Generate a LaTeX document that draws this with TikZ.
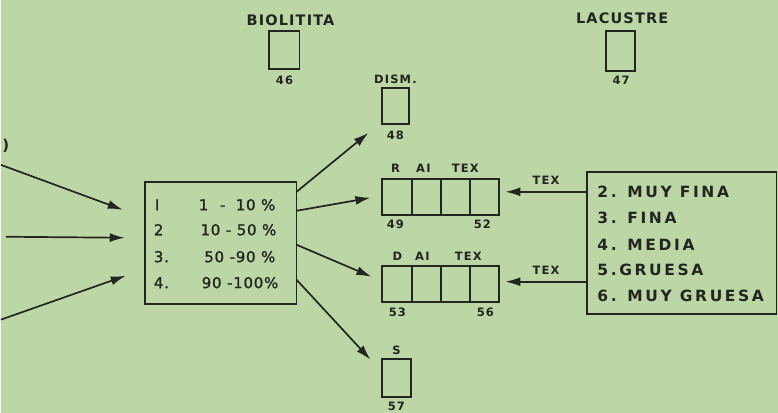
\documentclass[tikz,border=0pt]{standalone}
\usepackage{fontspec}
\setmainfont{DejaVu Sans}
\newfontfamily\labfont[LetterSpace=17]{DejaVu Sans Bold}
\newfontfamily\titfont[LetterSpace=8]{DejaVu Sans Bold}
\newfontfamily\smfont[LetterSpace=10]{DejaVu Sans Bold}
\newfontfamily\valfont[LetterSpace=5,FakeBold=1.2]{DejaVu Sans}
\usetikzlibrary{arrows.meta,calc}
\definecolor{bg}{RGB}{189,214,166}
\definecolor{ink}{RGB}{34,38,32}
\begin{document}
\begin{tikzpicture}[x=1pt,y=-1pt,
  cell/.style={draw=ink,line width=1.9pt,minimum width=29.25pt,minimum height=36pt,inner sep=0pt,outer sep=0pt},
  sbox/.style={draw=ink,line width=1.9pt,minimum width=28pt,minimum height=37pt,inner sep=0pt,outer sep=0pt},
  frame/.style={draw=ink,line width=1.8pt,inner sep=0pt,outer sep=0pt},
  arr/.style={draw=ink,line width=1.7pt,-{Latex[length=15pt,width=9pt]}},
  small/.style={text=ink,font=\smfont\fontsize{11.5}{12}\selectfont,inner sep=0pt},
  title/.style={text=ink,font=\titfont\fontsize{14.5}{15}\selectfont,inner sep=0pt},
  item/.style={text=ink,font=\labfont\fontsize{15.5}{16}\selectfont,inner sep=0pt,anchor=west},
  pct/.style={text=ink,font=\valfont\fontsize{15}{16}\selectfont,inner sep=0pt}
]
\fill[bg] (0,0) rectangle (778,413);

% top boxes
\node[title] (tbio) at (290,20) {BIOLITITA};
\node[sbox,minimum width=31pt,minimum height=38pt] (b46) at (283.5,50) {};
\node[small] (n46) at (284,80) {46};
\node[title] (tlac) at (622,18) {LACUSTRE};
\node[sbox,minimum width=29pt,minimum height=40pt] (b47) at (620.5,51) {};
\node[small] (n47) at (621,80) {47};

% DISM
\node[small] (tdism) at (395,79) {DISM.};
\node[sbox,minimum width=27pt,minimum height=36pt] (b48) at (395.5,106) {};
\node[small] (n48) at (395,135) {48};

% R row
\node[cell] (r1) at (396.6,197) {};
\node[cell] (r2) at (425.9,197) {};
\node[cell] (r3) at (455.1,197) {};
\node[cell] (r4) at (484.4,197) {};
\node[small] (lr) at (395,168) {R};
\node[small] (lra) at (423,168) {AI};
\node[small] (lrt) at (465,168) {TEX};
\node[small] (n49) at (395,225) {49};
\node[small] (n52) at (482,225) {52};

% D row
\node[cell] (d1) at (396.6,284) {};
\node[cell] (d2) at (425.9,284) {};
\node[cell] (d3) at (455.1,284) {};
\node[cell] (d4) at (484.4,284) {};
\node[small] (ld) at (397,257) {D};
\node[small] (lda) at (422,257) {AI};
\node[small] (ldt) at (468,257) {TEX};
\node[small] (n53) at (397,313) {53};
\node[small] (n56) at (485,313) {56};

% S
\node[small] (ts) at (396,351) {S};
\node[sbox,minimum width=29pt,minimum height=38pt] (b57) at (396.5,378) {};
\node[small] (n57) at (396,407) {57};

% percentage box
\node[frame,minimum width=152pt,minimum height=122pt] (pct) at (220,243) {};
\node[pct,anchor=west] (p1n) at (154,205) {I};
\node[pct,anchor=west] (p2n) at (153,230) {2};
\node[pct,anchor=west] (p3n) at (153,257) {3.};
\node[pct,anchor=west] (p4n) at (153,283) {4.};
\node[pct,anchor=east] (p1) at (275,205) {1\hspace{6pt} -\hspace{5pt} 10 \%};
\node[pct,anchor=east] (p2) at (276,230) {10 - 50 \%};
\node[pct,anchor=east] (p3) at (275,257) {50 -90 \%};
\node[pct,anchor=east] (p4) at (278,283) {90 -100\%};

% texture box
\node[frame,minimum width=190pt,minimum height=142pt] (tex) at (681.5,243) {};
\node[item] (i2) at (597,192) {2. MUY FINA};
\node[item] (i3) at (597,218) {3. FINA};
\node[item] (i4) at (597,245) {4. MEDIA};
\node[item] (i5) at (597,270) {5.GRUESA};
\node[item] (i6) at (597,296) {6. MUY GRUESA};

% left inputs
\node[text=ink,font=\bfseries\fontsize{15}{15}\selectfont,inner sep=0pt] (paren) at (5,146) {)};
\coordinate (in1) at (0,165);
\coordinate (in2) at (5,237);
\coordinate (in3) at (0,320);
\draw[arr] (in1) -- ($(pct.west |- 0,210)+(-22,0)$);
\draw[arr] (in2) -- ($(pct.west |- 0,238)+(-20,0)$);
\draw[arr] (in3) -- ($(pct.west |- 0,276)+(-19,0)$);

% outputs
\draw[arr] (pct.east |- 0,192) -- ($(b48.south west)+(-14,9)$);
\draw[arr] (pct.east |- 0,211) -- ($(r1.west)+(-12,1)$);
\draw[arr] (pct.east |- 0,245) -- ($(d1.west)+(-11,-7)$);
\draw[arr] (pct.east |- 0,280) -- ($(b57.north west)+(-12,1)$);

% texture arrows
\draw[arr] (tex.west |- 0,192) -- ($(r4.east |- 0,192)+(6,0)$) node[small,midway,above=6pt] (tx1) {TEX};
\draw[arr] (tex.west |- 0,282) -- ($(d4.east |- 0,282)+(6,0)$) node[small,midway,above=6pt] (tx2) {TEX};
\end{tikzpicture}
\end{document}
